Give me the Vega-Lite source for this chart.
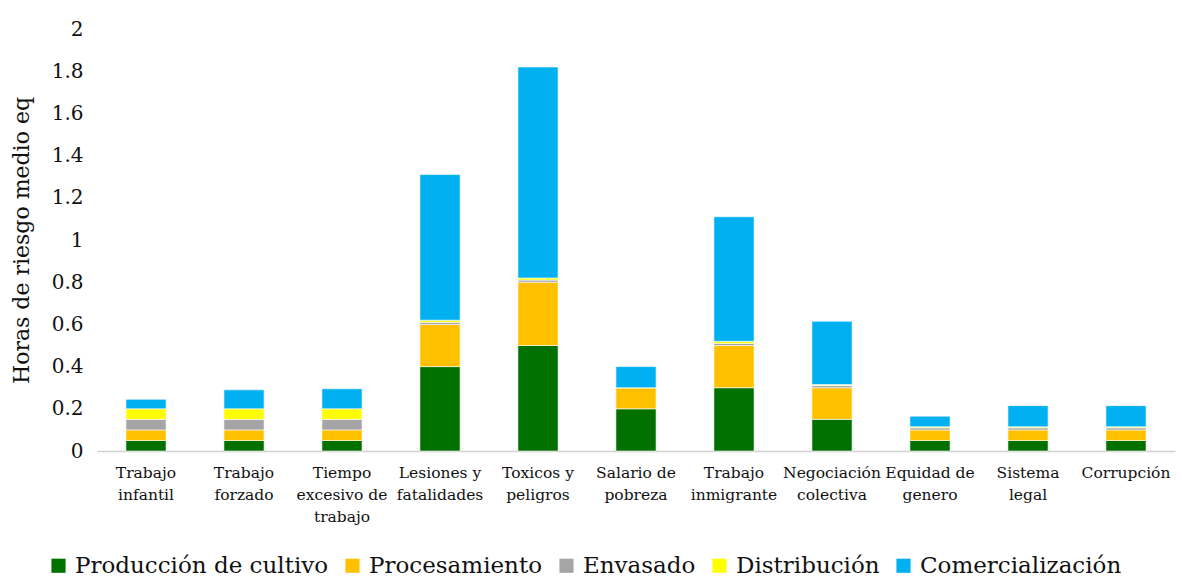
{
  "$schema": "https://vega.github.io/schema/vega-lite/v6.json",
  "width": 1078,
  "height": 422,
  "autosize": {"type": "none"},
  "padding": {"left": 97, "top": 29, "right": 7, "bottom": 130},
  "background": "white",
  "config": {
    "view": {"stroke": null},
    "font": "DejaVu Serif",
    "axis": {"labelFont": "DejaVu Serif", "titleFont": "DejaVu Serif", "labelColor": "#111", "titleColor": "#111"},
    "legend": {"labelFont": "DejaVu Serif"}
  },
  "data": {
    "values": [
      {"cat": "Trabajo|infantil", "i": 1, "etapa": "Producción de cultivo", "o": 1, "v": 0.05},
      {"cat": "Trabajo|infantil", "i": 1, "etapa": "Procesamiento", "o": 2, "v": 0.05},
      {"cat": "Trabajo|infantil", "i": 1, "etapa": "Envasado", "o": 3, "v": 0.05},
      {"cat": "Trabajo|infantil", "i": 1, "etapa": "Distribución", "o": 4, "v": 0.05},
      {"cat": "Trabajo|infantil", "i": 1, "etapa": "Comercialización", "o": 5, "v": 0.045},
      {"cat": "Trabajo|forzado", "i": 2, "etapa": "Producción de cultivo", "o": 1, "v": 0.05},
      {"cat": "Trabajo|forzado", "i": 2, "etapa": "Procesamiento", "o": 2, "v": 0.05},
      {"cat": "Trabajo|forzado", "i": 2, "etapa": "Envasado", "o": 3, "v": 0.05},
      {"cat": "Trabajo|forzado", "i": 2, "etapa": "Distribución", "o": 4, "v": 0.05},
      {"cat": "Trabajo|forzado", "i": 2, "etapa": "Comercialización", "o": 5, "v": 0.09},
      {"cat": "Tiempo|excesivo de|trabajo", "i": 3, "etapa": "Producción de cultivo", "o": 1, "v": 0.05},
      {"cat": "Tiempo|excesivo de|trabajo", "i": 3, "etapa": "Procesamiento", "o": 2, "v": 0.05},
      {"cat": "Tiempo|excesivo de|trabajo", "i": 3, "etapa": "Envasado", "o": 3, "v": 0.05},
      {"cat": "Tiempo|excesivo de|trabajo", "i": 3, "etapa": "Distribución", "o": 4, "v": 0.05},
      {"cat": "Tiempo|excesivo de|trabajo", "i": 3, "etapa": "Comercialización", "o": 5, "v": 0.095},
      {"cat": "Lesiones y|fatalidades", "i": 4, "etapa": "Producción de cultivo", "o": 1, "v": 0.4},
      {"cat": "Lesiones y|fatalidades", "i": 4, "etapa": "Procesamiento", "o": 2, "v": 0.2},
      {"cat": "Lesiones y|fatalidades", "i": 4, "etapa": "Envasado", "o": 3, "v": 0.01},
      {"cat": "Lesiones y|fatalidades", "i": 4, "etapa": "Distribución", "o": 4, "v": 0.01},
      {"cat": "Lesiones y|fatalidades", "i": 4, "etapa": "Comercialización", "o": 5, "v": 0.69},
      {"cat": "Toxicos y|peligros", "i": 5, "etapa": "Producción de cultivo", "o": 1, "v": 0.5},
      {"cat": "Toxicos y|peligros", "i": 5, "etapa": "Procesamiento", "o": 2, "v": 0.3},
      {"cat": "Toxicos y|peligros", "i": 5, "etapa": "Envasado", "o": 3, "v": 0.01},
      {"cat": "Toxicos y|peligros", "i": 5, "etapa": "Distribución", "o": 4, "v": 0.01},
      {"cat": "Toxicos y|peligros", "i": 5, "etapa": "Comercialización", "o": 5, "v": 1.0},
      {"cat": "Salario de|pobreza", "i": 6, "etapa": "Producción de cultivo", "o": 1, "v": 0.2},
      {"cat": "Salario de|pobreza", "i": 6, "etapa": "Procesamiento", "o": 2, "v": 0.1},
      {"cat": "Salario de|pobreza", "i": 6, "etapa": "Envasado", "o": 3, "v": 0},
      {"cat": "Salario de|pobreza", "i": 6, "etapa": "Distribución", "o": 4, "v": 0},
      {"cat": "Salario de|pobreza", "i": 6, "etapa": "Comercialización", "o": 5, "v": 0.1},
      {"cat": "Trabajo|inmigrante", "i": 7, "etapa": "Producción de cultivo", "o": 1, "v": 0.3},
      {"cat": "Trabajo|inmigrante", "i": 7, "etapa": "Procesamiento", "o": 2, "v": 0.2},
      {"cat": "Trabajo|inmigrante", "i": 7, "etapa": "Envasado", "o": 3, "v": 0.01},
      {"cat": "Trabajo|inmigrante", "i": 7, "etapa": "Distribución", "o": 4, "v": 0.01},
      {"cat": "Trabajo|inmigrante", "i": 7, "etapa": "Comercialización", "o": 5, "v": 0.59},
      {"cat": "Negociación|colectiva", "i": 8, "etapa": "Producción de cultivo", "o": 1, "v": 0.15},
      {"cat": "Negociación|colectiva", "i": 8, "etapa": "Procesamiento", "o": 2, "v": 0.15},
      {"cat": "Negociación|colectiva", "i": 8, "etapa": "Envasado", "o": 3, "v": 0.01},
      {"cat": "Negociación|colectiva", "i": 8, "etapa": "Distribución", "o": 4, "v": 0.005},
      {"cat": "Negociación|colectiva", "i": 8, "etapa": "Comercialización", "o": 5, "v": 0.3},
      {"cat": "Equidad de|genero", "i": 9, "etapa": "Producción de cultivo", "o": 1, "v": 0.05},
      {"cat": "Equidad de|genero", "i": 9, "etapa": "Procesamiento", "o": 2, "v": 0.05},
      {"cat": "Equidad de|genero", "i": 9, "etapa": "Envasado", "o": 3, "v": 0.01},
      {"cat": "Equidad de|genero", "i": 9, "etapa": "Distribución", "o": 4, "v": 0.005},
      {"cat": "Equidad de|genero", "i": 9, "etapa": "Comercialización", "o": 5, "v": 0.05},
      {"cat": "Sistema|legal", "i": 10, "etapa": "Producción de cultivo", "o": 1, "v": 0.05},
      {"cat": "Sistema|legal", "i": 10, "etapa": "Procesamiento", "o": 2, "v": 0.05},
      {"cat": "Sistema|legal", "i": 10, "etapa": "Envasado", "o": 3, "v": 0.01},
      {"cat": "Sistema|legal", "i": 10, "etapa": "Distribución", "o": 4, "v": 0.005},
      {"cat": "Sistema|legal", "i": 10, "etapa": "Comercialización", "o": 5, "v": 0.1},
      {"cat": "Corrupción", "i": 11, "etapa": "Producción de cultivo", "o": 1, "v": 0.05},
      {"cat": "Corrupción", "i": 11, "etapa": "Procesamiento", "o": 2, "v": 0.05},
      {"cat": "Corrupción", "i": 11, "etapa": "Envasado", "o": 3, "v": 0.01},
      {"cat": "Corrupción", "i": 11, "etapa": "Distribución", "o": 4, "v": 0.005},
      {"cat": "Corrupción", "i": 11, "etapa": "Comercialización", "o": 5, "v": 0.1}
    ]
  },
  "mark": {"type": "bar", "stroke": "white", "strokeWidth": 0.6},
  "encoding": {
    "x": {
      "field": "cat",
      "type": "nominal",
      "sort": {"field": "i"},
      "scale": {"paddingInner": 0.59, "paddingOuter": 0.295},
      "axis": {
        "title": null,
        "labelAngle": 0,
        "labelExpr": "split(datum.value, '|')",
        "labelFontSize": 15.5,
        "labelLineHeight": 22,
        "labelPadding": 14,
        "labelBaseline": "top",
        "ticks": false,
        "domainColor": "#d0d0d0",
        "domainWidth": 1.5,
        "labelLimit": 200
      }
    },
    "y": {
      "field": "v",
      "type": "quantitative",
      "aggregate": "sum",
      "stack": "zero",
      "scale": {"domain": [0, 2]},
      "axis": {
        "title": "Horas de riesgo medio eq",
        "titleFontSize": 22,
        "titleFontWeight": "normal",
        "titlePadding": 18,
        "labelFontSize": 20,
        "labelPadding": 14,
        "format": "~g",
        "values": [0, 0.2, 0.4, 0.6, 0.8, 1, 1.2, 1.4, 1.6, 1.8, 2],
        "grid": false,
        "ticks": false,
        "domain": false
      }
    },
    "color": {
      "field": "etapa",
      "type": "nominal",
      "scale": {
        "domain": ["Producción de cultivo", "Procesamiento", "Envasado", "Distribución", "Comercialización"],
        "range": ["#007000", "#FFC000", "#A5A5A5", "#FFFF00", "#00B0F0"]
      },
      "legend": {
        "title": null,
        "orient": "none",
        "direction": "horizontal",
        "legendX": -50,
        "legendY": 525,
        "symbolType": "square",
        "symbolSize": 200,
        "symbolStrokeWidth": 0,
        "labelFontSize": 23,
        "labelColor": "#111",
        "columnPadding": 12,
        "labelOffset": 5,
        "labelLimit": 400
      }
    },
    "order": {"field": "o", "type": "quantitative"}
  }
}
